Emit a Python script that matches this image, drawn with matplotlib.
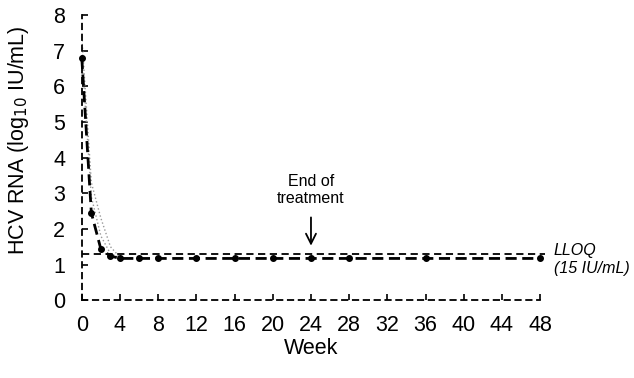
import matplotlib.pyplot as plt
import numpy as np

plt.rcParams['font.family'] = ['Liberation Sans', 'DejaVu Sans']

# mean HCV RNA over time (log10 IU/mL)
weeks = [0, 1, 2, 3, 4, 6, 8, 12, 16, 20, 24, 28, 36, 48]
hcv_mean = [6.8, 2.45, 1.43, 1.24, 1.17, 1.17, 1.17, 1.17, 1.17, 1.17, 1.17, 1.17, 1.17, 1.17]

# faint individual traces near the start
indiv_weeks = [0, 1, 2, 3, 4]
indiv_a = [7.4, 3.3, 2.3, 1.5, 1.2]
indiv_b = [6.9, 2.9, 1.8, 1.3, 1.2]

lloq = 1.3
xticks = list(range(0, 49, 4))
yticks = list(range(0, 9))

fig = plt.figure(figsize=(6.34, 3.78), dpi=100)
ax = fig.add_axes([0.129, 0.206, 0.723, 0.754])

ax.plot(indiv_weeks, indiv_a, color="#999999", ls=":", lw=1.0)
ax.plot(indiv_weeks, indiv_b, color="#999999", ls=":", lw=1.0)

ax.plot([0, 48.5], [lloq, lloq], color="black", ls=(0, (4, 2.5)), lw=1.3, clip_on=False)
ax.plot(weeks, hcv_mean, color="black", ls=(0, (4, 2)), lw=2.0,
        marker="o", ms=4, clip_on=False)

ax.set_xlim(0, 48)
ax.set_ylim(0, 8)
ax.set_xticks(xticks)
ax.set_yticks(yticks)
ax.tick_params(labelsize=15.5, direction="in", length=4, width=1.2)
ax.tick_params(axis="x", pad=11)
ax.tick_params(axis="y", pad=12)

for side in ["top", "right"]:
    ax.spines[side].set_visible(False)
for side in ["left", "bottom"]:
    ax.spines[side].set_linestyle((0, (3, 3)))
    ax.spines[side].set_linewidth(1.3)

ax.set_xlabel("Week", fontsize=15.5, labelpad=1)
ax.set_ylabel("HCV RNA (log$_{10}$ IU/mL)", fontsize=15.5)
ax.yaxis.set_label_coords(-0.11, 0.56)

ax.annotate("", xy=(24, 1.45), xytext=(24, 2.4),
            arrowprops=dict(arrowstyle="->", color="black", lw=1.3, mutation_scale=18))
ax.text(24, 3.1, "End of\ntreatment", ha="center", va="center", fontsize=11.5,
        linespacing=1.15)
ax.text(49.4, 1.13, "LLOQ\n(15 IU/mL)", ha="left", va="center", fontsize=11.5,
        style="italic", linespacing=1.25, clip_on=False)

fig.savefig("out.png", dpi=100)
